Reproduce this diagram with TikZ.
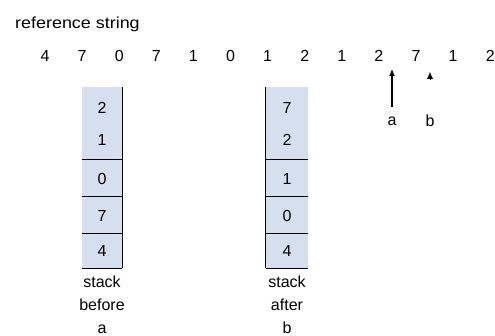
\documentclass[tikz,border=0pt]{standalone}
\usepackage{fontspec}
\setmainfont{Liberation Sans}
\usetikzlibrary{arrows.meta}
\definecolor{cellfill}{RGB}{214,223,240}
\begin{document}
\begin{tikzpicture}[x=1pt,y=-1pt,
  txt/.style={inner sep=0pt,font=\fontsize{16}{23}\selectfont},
  cell/.style={fill=cellfill,draw=none,minimum width=40pt,inner sep=0pt},
  rule/.style={line width=1.2pt,black},
  ptr/.style={line width=1.2pt,-{Latex[length=7pt,width=6pt]}}]
\useasboundingbox (0,0) rectangle (495,336);
\node[txt,anchor=west,xscale=1.12] (title) at (15,24) {reference string};
\foreach \v [count=\i] in {4,7,0,7,1,0,1,2,1,2,7,1,2}{
  \node[txt] (r\i) at ({45+37.1*(\i-1)},56) {\v};
}
% stack before a
\node[cell,minimum height=73pt] (s1a) at (102,123.5) {};
\node[cell,minimum height=37pt] (s1b) at (102,178.5) {};
\node[cell,minimum height=37pt] (s1c) at (102,215.5) {};
\node[cell,minimum height=34pt] (s1d) at (102,251) {};
\node[txt] (s1v1) at (102,108) {2};
\node[txt] (s1v2) at (102,140) {1};
\node[txt] (s1v3) at (s1b) {0};
\node[txt] (s1v4) at (s1c) {7};
\node[txt] (s1v5) at (s1d) {4};
\draw[rule] (s1a.north east) -- (s1d.south east);
\draw[rule] (s1b.north west) -- (s1b.north east);
\draw[rule] (s1c.north west) -- (s1c.north east);
\draw[rule] (s1d.north west) -- (s1d.north east);
\draw[rule] (s1d.south west) -- (s1d.south east);
\node[txt,align=center,anchor=north] (s1lab) at (102,276) {stack\\before\\a};
% stack after b
\node[cell,minimum height=73pt,minimum width=42pt] (s2a) at (287,123.5) {};
\node[cell,minimum height=37pt,minimum width=42pt] (s2b) at (287,178.5) {};
\node[cell,minimum height=37pt,minimum width=42pt] (s2c) at (287,215.5) {};
\node[cell,minimum height=34pt,minimum width=42pt] (s2d) at (287,251) {};
\node[txt] (s2v1) at (287,108) {7};
\node[txt] (s2v2) at (287,140) {2};
\node[txt] (s2v3) at (s2b) {1};
\node[txt] (s2v4) at (s2c) {0};
\node[txt] (s2v5) at (s2d) {4};
\draw[rule] (s2a.north west) -- (s2d.south west);
\draw[rule] (s2b.north west) -- (s2b.north east);
\draw[rule] (s2c.north west) -- (s2c.north east);
\draw[rule] (s2d.north west) -- (s2d.north east);
\draw[rule] (s2d.south west) -- (s2d.south east);
\node[txt,align=center,anchor=north] (s2lab) at (287,276) {stack\\after\\b};
% pointers
\node[txt] (la) at (392,121) {a};
\node[txt] (lb) at (430,121) {b};
\coordinate (abase) at (392,107);
\coordinate (atip) at (392,69);
\coordinate (bbase) at (430,80);
\coordinate (btip) at (430,72);
\draw[ptr] (abase) -- (atip);
\draw[line width=0.4pt,-{Latex[length=7pt,width=6pt]}] (bbase) -- (btip);
\end{tikzpicture}
\end{document}
